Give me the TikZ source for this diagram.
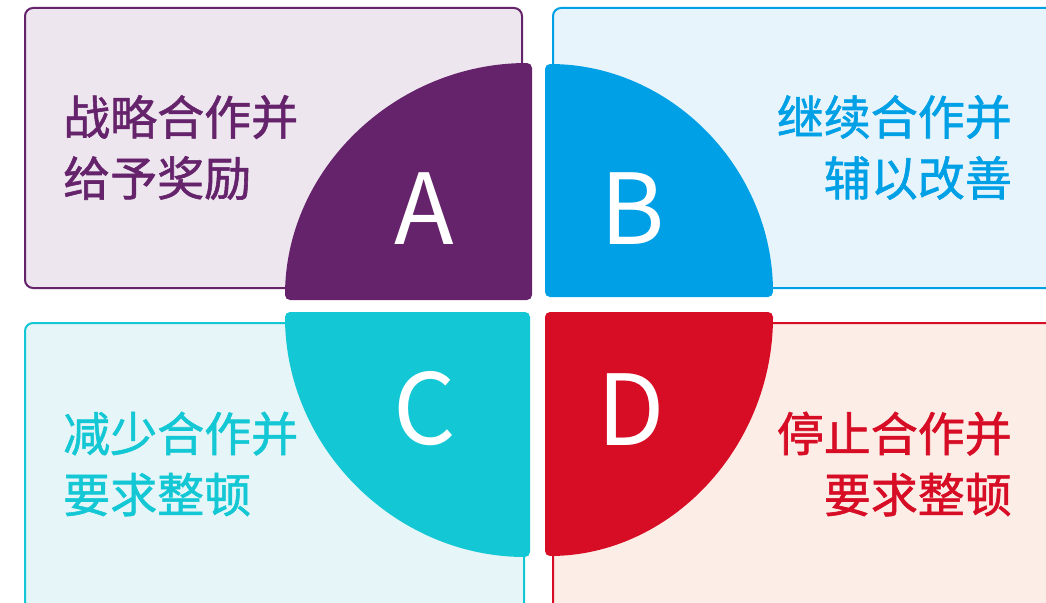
\documentclass[tikz,border=0pt]{standalone}
\usepackage{fontspec}
\newfontfamily\cjk{Noto Sans CJK SC}
\newfontfamily\cjkm[FakeBold=1.2]{Noto Sans CJK SC}
\definecolor{cA}{HTML}{65236B}
\definecolor{fA}{HTML}{EEE6EF}
\definecolor{cB}{HTML}{00A0E6}
\definecolor{fB}{HTML}{E8F4FC}
\definecolor{cC}{HTML}{13C8D4}
\definecolor{fC}{HTML}{E6F5F7}
\definecolor{cD}{HTML}{D70C25}
\definecolor{fD}{HTML}{FCEDE7}
\begin{document}
\begin{tikzpicture}[x=1pt,y=-1pt,
  panel/.style={rounded corners=8pt, line width=2pt},
  pie/.style={rounded corners=5pt},
  label/.style={font=\cjkm\fontsize{47}{61}\selectfont, inner sep=0pt},
  letter/.style={font=\cjk\fontsize{98}{98}\selectfont, text=white, inner sep=0pt}]
\useasboundingbox (0,0) rectangle (1046,602);
\begin{scope}
\clip (0,0) rectangle (1046,602);
% panels
\draw[panel, draw=cA, fill=fA] (25,8) rectangle (522,288);
\draw[panel, draw=cB, fill=fB] (553,8) rectangle (1060,288);
\draw[panel, draw=cC, fill=fC] (25,323) rectangle (524,615);
\draw[panel, draw=cD, fill=fD] (553,323) rectangle (1060,615);
% pies
\fill[pie, cA] (532,300) -- (285,300) arc[start angle=180, end angle=270, x radius=247, y radius=237] -- cycle;
\fill[pie, cB] (545,297) -- (545,64) arc[start angle=270, end angle=360, x radius=228, y radius=233] -- cycle;
\fill[pie, cC] (530,312) -- (285,312) arc[start angle=180, end angle=90, x radius=245, y radius=245] -- cycle;
\fill[pie, cD] (545,312) -- (773,312) arc[start angle=0, end angle=90, x radius=228, y radius=244] -- cycle;
\end{scope}
% letters
\node[letter] (la) at (424,209) {A};
\node[letter] (lb) at (633,209) {B};
\node[letter] (lc) at (425,409) {C};
\node[letter] (ld) at (631,410) {D};
% texts
\node[label, text=cA, align=left, anchor=west] (ta) at (63,147.5) {战略合作并\\给予奖励};
\node[label, text=cB, align=right, anchor=east] (tb) at (1012,147.5) {继续合作并\\辅以改善};
\node[label, text=cC, align=left, anchor=west] (tc) at (63,464) {减少合作并\\要求整顿};
\node[label, text=cD, align=right, anchor=east] (td) at (1012,464) {停止合作并\\要求整顿};
\end{tikzpicture}
\end{document}
